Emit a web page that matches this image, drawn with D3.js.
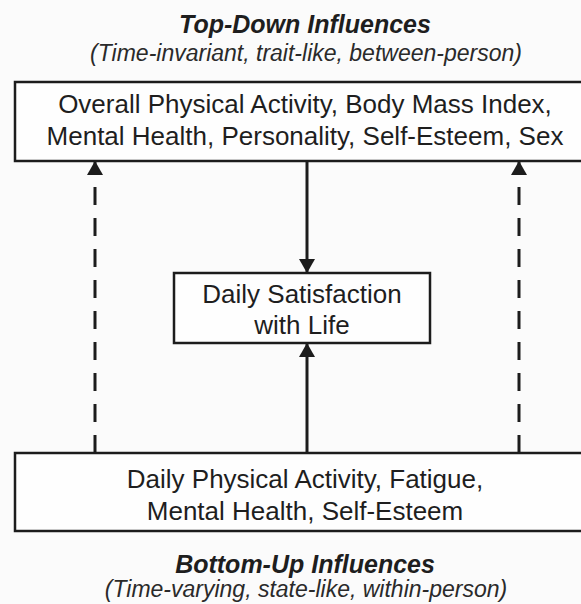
<!DOCTYPE html>
<html>
<head>
<meta charset="utf-8">
<script src="https://cdn.jsdelivr.net/npm/d3@7"></script>
<style>
  html, body { margin: 0; padding: 0; background: #fbfbfb; }
  svg { display: block; }
  text { font-family: "Liberation Sans", Arial, sans-serif; fill: #1e1e1e; }
</style>
</head>
<body>
<svg id="diagram"></svg>
<script>
// diagram content
const headings = ["Top-Down Influences", "Bottom-Up Influences"];
const subheadings = ["(Time-invariant, trait-like, between-person)", "(Time-varying, state-like, within-person)"];
const topLines = ["Overall Physical Activity, Body Mass Index,", "Mental Health, Personality, Self-Esteem, Sex"];
const midLines = ["Daily Satisfaction", "with Life"];
const bottomLines = ["Daily Physical Activity, Fatigue,", "Mental Health, Self-Esteem"];
const levels = ["top", "middle", "bottom"];
// links between levels
const arrows = [
    { from: "bottom", to: "top", dashed: true, lane: "left" },
    { from: "bottom", to: "top", dashed: true, lane: "right" },
    { from: "top", to: "middle", dashed: false, lane: "center" },
    { from: "bottom", to: "middle", dashed: false, lane: "center" }
];

const width = 581, height = 604;
const ink = "#1c1c1c";

const svg = d3.select("#diagram")
    .attr("width", width)
    .attr("height", height);

// layout
const x = d3.scalePoint()
    .domain(["left", "center", "right"])
    .range([95, 519]);
const cx = 305;

const boxes = {
    top:    { x0: 15,  x1: 593, y0: 82,  y1: 161, lines: topLines,    base: 113 },
    middle: { x0: 174, x1: 430, y0: 273, y1: 343, lines: midLines,    base: 303 },
    bottom: { x0: 15,  x1: 593, y0: 453, y1: 531, lines: bottomLines, base: 488 }
};

const laneX = d => d.lane === "center" ? 307 : x(d.lane);

// arrowhead
svg.append("defs").append("marker")
    .attr("id", "head")
    .attr("markerUnits", "userSpaceOnUse")
    .attr("viewBox", "0 -8 14 16")
    .attr("refX", 14)
    .attr("refY", 0)
    .attr("markerWidth", 14)
    .attr("markerHeight", 16)
    .attr("orient", "auto")
    .append("path")
    .attr("d", "M0,-8L14,0L0,8Z")
    .attr("fill", ink);

// arrows
svg.append("g")
    .selectAll("line")
    .data(arrows)
    .enter()
    .append("line")
    .attr("x1", laneX)
    .attr("x2", laneX)
    .attr("y1", d => {
        const b = boxes[d.from];
        return boxes[d.to].y0 > b.y0 ? b.y1 : b.y0;
    })
    .attr("y2", d => {
        const from = boxes[d.from], to = boxes[d.to];
        return to.y0 > from.y0 ? to.y0 : to.y1;
    })
    .attr("stroke", ink)
    .attr("stroke-width", 3)
    .attr("stroke-dasharray", d => d.dashed ? "18,13" : null)
    .attr("marker-end", "url(#head)");

// boxes
const box = svg.append("g")
    .selectAll("g")
    .data(levels)
    .enter()
    .append("g");

box.append("rect")
    .attr("x", d => boxes[d].x0)
    .attr("y", d => boxes[d].y0)
    .attr("width", d => boxes[d].x1 - boxes[d].x0)
    .attr("height", d => boxes[d].y1 - boxes[d].y0)
    .attr("fill", "#fefefe")
    .attr("stroke", ink)
    .attr("stroke-width", 2.5);

box.each(function(d) {
    const b = boxes[d];
    const lh = d === "middle" ? 31 : 32;
    d3.select(this).selectAll("text")
        .data(b.lines)
        .enter()
        .append("text")
        .attr("x", d === "middle" ? 302 : cx)
        .attr("y", (t, i) => b.base + i * lh)
        .attr("text-anchor", "middle")
        .style("font-size", "26px")
        .text(t => t);
});

// headings
const headY = [33, 573];
const subY = [61, 597];

svg.append("g")
    .selectAll("text")
    .data(headings)
    .enter()
    .append("text")
    .attr("x", 305)
    .attr("y", (d, i) => headY[i])
    .attr("text-anchor", "middle")
    .style("font-size", "25px")
    .style("font-weight", "bold")
    .style("font-style", "italic")
    .text(d => d);

svg.append("g")
    .selectAll("text")
    .data(subheadings)
    .enter()
    .append("text")
    .attr("x", 306)
    .attr("y", (d, i) => subY[i])
    .attr("text-anchor", "middle")
    .style("font-size", "23px")
    .style("font-style", "italic")
    .style("fill", "#2a2a2a")
    .text(d => d);
</script>
</body>
</html>
